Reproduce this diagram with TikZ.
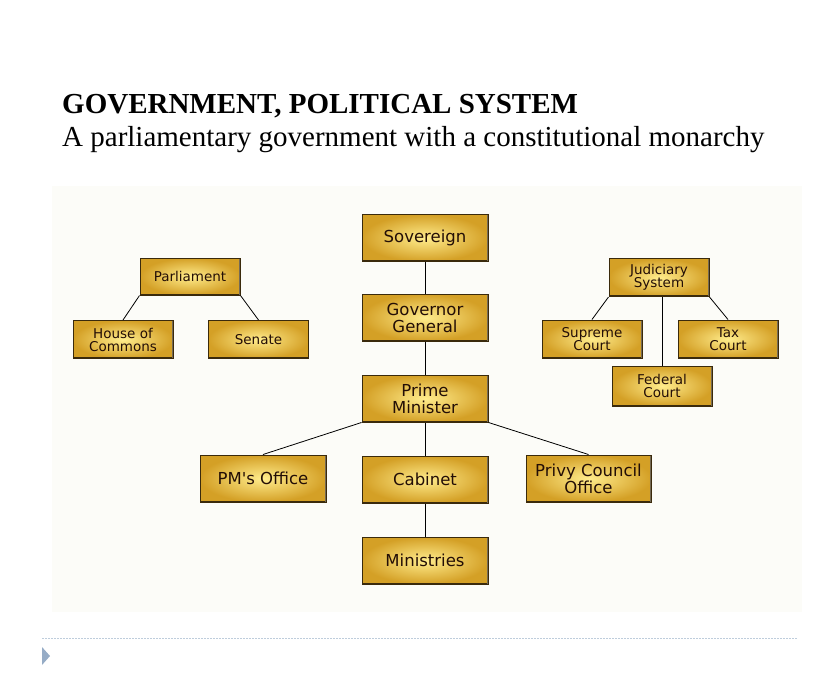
\documentclass[tikz,border=0pt]{standalone}
\usepackage{fontspec}
\setmainfont{Liberation Serif}
\newfontfamily\boxfont{DejaVu Sans}
\usepackage{tikz}

\definecolor{goldlight}{RGB}{255,236,140}
\definecolor{golddark}{RGB}{212,160,38}
\definecolor{boxedge}{RGB}{58,42,12}
\definecolor{boxtext}{RGB}{35,14,6}
\definecolor{chartbg}{RGB}{252,252,248}
\definecolor{rulegray}{RGB}{190,205,220}
\definecolor{markblue}{RGB}{150,172,198}

\tikzset{
  govbox/.style={draw=boxedge, line width=1pt, inner color=goldlight, outer color=golddark,
    text=boxtext, font=\boxfont\fontsize{16.5}{17}\selectfont, align=center,
    minimum width=126pt, minimum height=47pt, inner sep=2pt,
    path picture={\draw[boxedge, line width=3pt] (path picture bounding box.south west) -- (path picture bounding box.south east);
      \draw[boxedge!70, line width=2pt] (path picture bounding box.south east) -- (path picture bounding box.north east);}},
  smallbox/.style={govbox, minimum width=100pt, minimum height=38pt, font=\boxfont\fontsize{13.5}{13}\selectfont},
  link/.style={draw=black, line width=0.8pt}
}

\begin{document}
\begin{tikzpicture}[x=1pt, y=-1pt]
\useasboundingbox (0,0) rectangle (839,689);
%  Title
\node[anchor=base west, inner sep=0pt, font=\fontsize{29}{29}\selectfont\bfseries] (title) at (62,113) {GOVERNMENT, POLITICAL SYSTEM};
\node[anchor=base west, inner sep=0pt, font=\fontsize{29}{29}\selectfont] (subtitle) at (62,146) {A parliamentary government with a constitutional monarchy};
%  Chart background
\fill[chartbg] (52,186) rectangle (802,612);
%  Main column
\node[govbox] (sov) at (425,238) {Sovereign};
\node[govbox] (gg) at (425,317.5) {Governor\\General};
\node[govbox] (pm) at (425,398.5) {Prime\\Minister};
\node[govbox] (cab) at (425,479.5) {Cabinet};
\node[govbox] (min) at (425,560.5) {Ministries};
\node[govbox] (pmo) at (263,478.5) {PM's Office};
\node[govbox, minimum width=125pt] (pco) at (588.5,478.5) {Privy Council\\Office};
%  Parliament
\node[smallbox, minimum height=37pt] (parl) at (190,276.5) {Parliament};
\node[smallbox] (hoc) at (123,339.5) {House of\\Commons};
\node[smallbox] (sen) at (258.5,339.5) {Senate};
%  Judiciary
\node[smallbox] (jud) at (659,277.5) {Judiciary\\System};
\node[smallbox] (sup) at (592,339) {Supreme\\Court};
\node[smallbox] (tax) at (728,339) {Tax\\Court};
\node[smallbox, minimum height=40pt] (fed) at (662,386) {Federal\\Court};
%  Lines that connect them
\draw[link] (sov) -- (gg);
\draw[link] (gg) -- (pm);
\draw[link] (pm) -- (cab);
\draw[link] (cab) -- (min);
\draw[link] (pm.south west) -- (pmo.north);
\draw[link] (pm.south east) -- (pco.north);
\draw[link] (parl.south west) -- (hoc.north);
\draw[link] (parl.south east) -- (sen.north);
\draw[link] (jud.south west) -- (sup.north);
\draw[link] (jud.south east) -- (tax.north);
\draw[link] (fed.north |- jud.south) -- (fed.north);
%  Slide footer
\coordinate (ruleL) at (42,638);
\coordinate (ruleR) at (797,638);
\draw[rulegray, line width=1pt, dash pattern=on 2pt off 1pt] (ruleL) -- (ruleR);
\fill[markblue] (42,647) -- (50,656) -- (42,665) -- cycle;
\end{tikzpicture}
\end{document}
